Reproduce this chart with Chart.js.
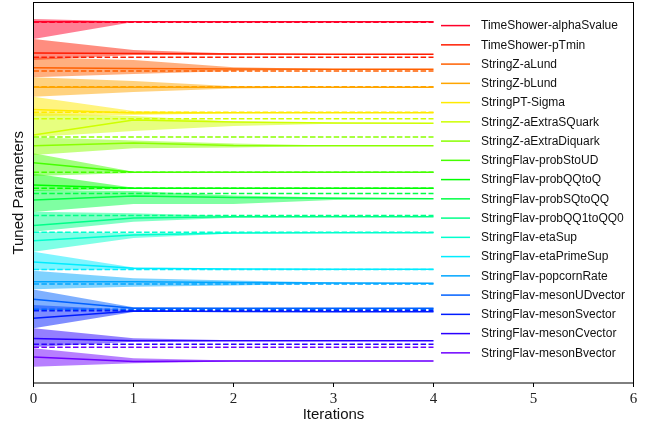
<!DOCTYPE html>
<html><head><meta charset="utf-8">
<script src="https://cdn.jsdelivr.net/npm/chart.js@4"></script>
<style>html,body{margin:0;padding:0;background:#fff}#wrap{width:648px;height:430px}</style>
</head><body><div id="wrap"><canvas id="c" width="648" height="430"></canvas></div>
<script>
// Iterations (x values)
const iterations = [0, 1, 2, 3, 4];
const xTicks = [0, 1, 2, 3, 4, 5, 6];
const paramNames = [
  'TimeShower-alphaSvalue','TimeShower-pTmin','StringZ-aLund','StringZ-bLund','StringPT-Sigma',
  'StringZ-aExtraSQuark','StringZ-aExtraDiquark','StringFlav-probStoUD','StringFlav-probQQtoQ',
  'StringFlav-probSQtoQQ','StringFlav-probQQ1toQQ0','StringFlav-etaSup','StringFlav-etaPrimeSup',
  'StringFlav-popcornRate','StringFlav-mesonUDvector','StringFlav-mesonSvector',
  'StringFlav-mesonCvector','StringFlav-mesonBvector'
];
// Tuned value per iteration (offset units, top of axis = smallest)
const meanValues = [
  [21.7,21.7,21.7,21.7,21.7],
  [53,53.5,54,54.2,54.3],
  [67.7,68.5,69,69.2,69.3],
  [87.3,87.3,87.3,87.3,87.3],
  [109.5,113,112.8,112.7,112.7],
  [135,120,122,123,123.3],
  [145.7,143,145.5,145.7,145.7],
  [162.7,172.3,172.3,172.3,172.3],
  [185,188.3,188.3,188.3,188.3],
  [200,196,197.5,198.3,198.7],
  [225.5,218,216.7,216.7,216.7],
  [240.7,235,233,232.7,232.7],
  [262,268.3,269,269.2,269.3],
  [281.7,281.7,282.5,283,283.3],
  [299.3,308.3,308.3,308.3,308.3],
  [318.3,311,311.5,311.7,311.7],
  [338.5,340.7,340.7,340.7,340.7],
  [357,361.5,361,361,361]
];
// Band edges per iteration
const lowerValues = [
  [19,21.4,21.5,21.5,21.5],
  [39,50,53.5,54.1,54.2],
  [57.3,60,67.3,68.9,69.1],
  [77.3,81,86.3,87.1,87.1],
  [96.7,111,112.3,112.5,112.5],
  [113,116,121.5,122.8,123.1],
  [137.3,140.5,143.5,145.4,145.5],
  [153.3,171.8,172,172,172],
  [173.5,187.7,188,188,188],
  [190,191,195.5,197.5,198.4],
  [211.7,213.3,216,216.5,216.5],
  [231.7,233.3,232.5,232.5,232.5],
  [251.7,267.5,268.8,269,269.1],
  [270.7,278.3,280.5,282.6,283.1],
  [289.5,307.3,308,308,308],
  [305,310,311.2,311.4,311.4],
  [328.3,338.3,340.3,340.5,340.5],
  [348.3,358.3,360.6,360.8,360.8]
];
const upperValues = [
  [39,22,21.9,21.9,21.9],
  [60,55,55,54.5,54.4],
  [77.3,74,71,69.6,69.5],
  [96.7,92,88.5,87.5,87.5],
  [116,115,113.3,112.9,112.9],
  [137,131,126,123.8,123.5],
  [155,148.3,147.5,146,145.9],
  [176,173,172.6,172.6,172.6],
  [191,189,188.6,188.6,188.6],
  [212,204,204,200,199],
  [231.7,221.7,217.7,217,217],
  [251.7,238,233.5,233,233],
  [270,269.5,269.3,269.5,269.5],
  [289.3,286.7,285.5,283.6,283.5],
  [310,309.3,308.6,308.6,308.6],
  [328.3,312,311.8,312,312],
  [347,341.7,341,340.9,340.9],
  [366.7,363.3,361.4,361.2,361.2]
];
// Reference (target) values, dashed
const targetValues = [22.2,57.3,71,86.7,112.3,118.7,137,172.3,188.3,193.5,215.5,232.3,269.5,284,309.3,310.7,344.3,347.3];
const axisRange = [2.5, 383];

const colors = [
  [255,0,41],[255,28,0],[255,96,0],[255,165,0],[255,234,0],[207,255,0],[138,255,0],[69,255,0],
  [0,255,0],[0,255,69],[0,255,137],[0,255,206],[0,236,255],[0,166,255],[0,97,255],[0,28,255],
  [42,0,255],[111,0,255]
];
const rgb = (c, a) => a === undefined ? `rgb(${c[0]},${c[1]},${c[2]})` : `rgba(${c[0]},${c[1]},${c[2]},${a})`;
const pts = arr => arr.map((v, i) => ({x: iterations[i], y: v}));

const datasets = [];
paramNames.forEach((name, i) => {
  const c = colors[i];
  datasets.push({label: name + ' lo', data: pts(lowerValues[i]), borderWidth: 0, pointRadius: 0, fill: false, order: 3, borderColor: 'rgba(0,0,0,0)'});
  datasets.push({label: name + ' hi', data: pts(upperValues[i]), borderWidth: 0, pointRadius: 0, fill: '-1', backgroundColor: rgb(c, 0.5), order: 3, borderColor: 'rgba(0,0,0,0)'});
});
paramNames.forEach((name, i) => {
  const c = colors[i];
  datasets.push({label: name, data: pts(meanValues[i]), borderColor: rgb(c), borderWidth: 1.6, pointRadius: 0, fill: false, order: 2});
  datasets.push({label: name + ' target', data: [{x: iterations[0], y: targetValues[i]}, {x: iterations[iterations.length-1], y: targetValues[i]}], borderColor: rgb(c), borderWidth: 1.5, borderDash: [5.5, 2.4], pointRadius: 0, fill: false, order: 1});
});

const framePlugin = {
  id: 'frame',
  afterDraw(chart) {
    const {ctx, chartArea: a} = chart;
    ctx.save();
    ctx.strokeStyle = '#000';
    ctx.lineWidth = 1;
    ctx.strokeRect(a.left, a.top, a.right - a.left, a.bottom - a.top);
    // legend
    ctx.font = '12px "Liberation Sans", Arial, sans-serif';
    ctx.textBaseline = 'middle';
    ctx.textAlign = 'left';
    paramNames.forEach((name, i) => {
      const y = 25.6 + i * 19.25;
      ctx.strokeStyle = rgb(colors[i]);
      ctx.lineWidth = 1.5;
      ctx.beginPath(); ctx.moveTo(441, y); ctx.lineTo(470, y); ctx.stroke();
      ctx.fillStyle = '#111';
      ctx.fillText(name, 481, y + 0.5);
    });
    ctx.restore();
  }
};

new Chart(document.getElementById('c'), {
  type: 'line',
  data: {datasets},
  options: {
    responsive: false,
    animation: false,
    layout: {padding: {left: 0, right: 14.5, top: 2.5, bottom: 0}},
    plugins: {legend: {display: false}, tooltip: {enabled: false}},
    elements: {line: {tension: 0}},
    scales: {
      x: {
        type: 'linear', min: 0, max: 6,
        afterBuildTicks: s => { s.ticks = xTicks.map(v => ({value: v})); },
        afterFit: s => { s.height = 47; },
        border: {display: false},
        grid: {display: true, drawOnChartArea: false, drawTicks: true, tickLength: 4, color: '#000'},
        ticks: {padding: 3, color: '#222', font: {family: '"Liberation Serif", "DejaVu Serif", serif', size: 15}},
        title: {display: true, text: 'Iterations', color: '#111', font: {family: '"Liberation Sans", Arial, sans-serif', size: 15}, padding: {top: 0, bottom: 6}}
      },
      y: {
        type: 'linear', reverse: true, min: axisRange[0], max: axisRange[1],
        afterFit: s => { s.width = 33.5; },
        border: {display: false},
        grid: {display: false, drawTicks: false},
        ticks: {display: false},
        title: {display: true, text: 'Tuned Parameters', color: '#111', font: {family: '"Liberation Sans", Arial, sans-serif', size: 15}, padding: {top: 10, bottom: 0}}
      }
    }
  },
  plugins: [framePlugin]
});
</script>
</body></html>
